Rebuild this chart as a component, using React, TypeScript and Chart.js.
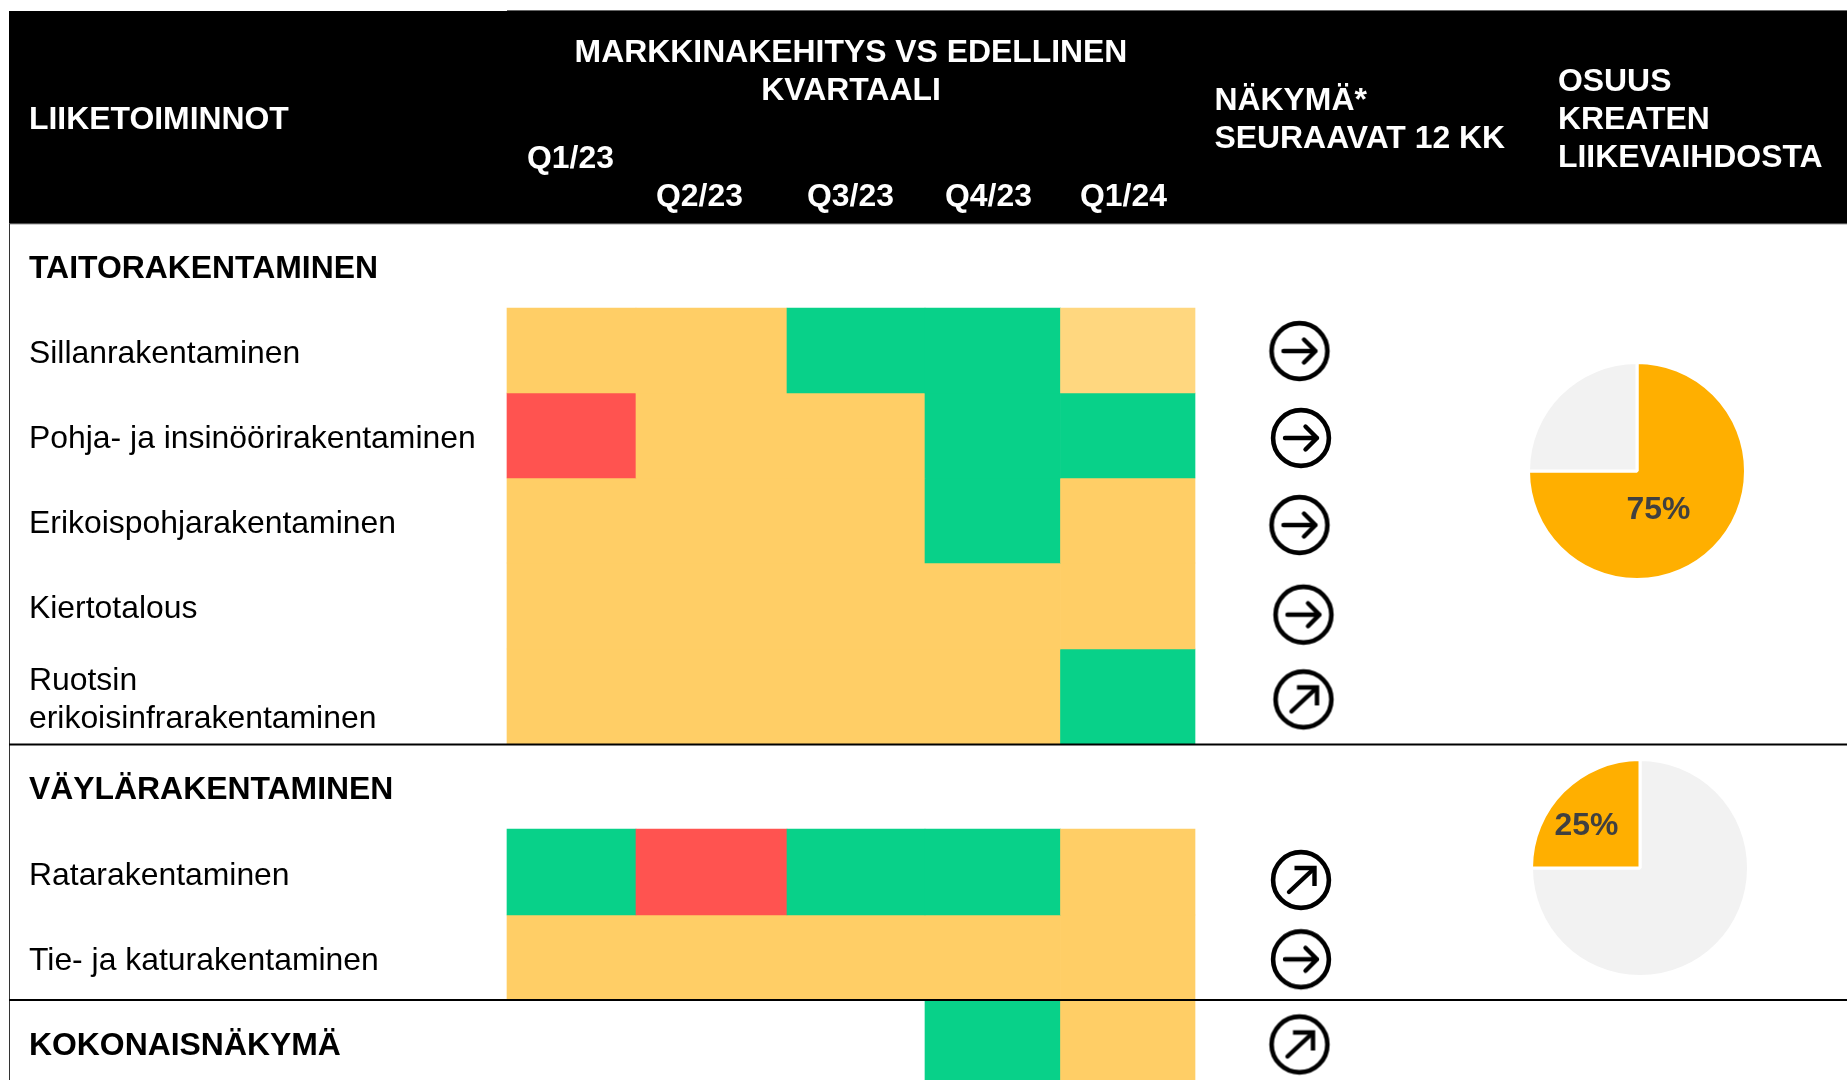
import React, { useEffect, useRef } from "react";
import { Chart, LinearScale, registerables } from "chart.js";

// ---------- data ----------
const quarters = ["Q1/23", "Q2/23", "Q3/23", "Q4/23", "Q1/24"];
const rowLabels = [
  "TAITORAKENTAMINEN",
  "Sillanrakentaminen",
  "Pohja- ja insinöörirakentaminen",
  "Erikoispohjarakentaminen",
  "Kiertotalous",
  "Ruotsin\nerikoisinfrarakentaminen",
  "VÄYLÄRAKENTAMINEN",
  "Ratarakentaminen",
  "Tie- ja katurakentaminen",
  "KOKONAISNÄKYMÄ",
];
// market development per quarter: u = up, n = neutral, l = neutral (light), d = down, "" = no cell
const sillanrakentaminen = ["n", "n", "u", "u", "l"];
const pohjaInsinoori = ["d", "n", "n", "u", "u"];
const erikoispohja = ["n", "n", "n", "u", "n"];
const kiertotalous = ["n", "n", "n", "n", "n"];
const ruotsinErikoisinfra = ["n", "n", "n", "n", "u"];
const ratarakentaminen = ["u", "d", "u", "u", "n"];
const tieJaKatu = ["n", "n", "n", "n", "n"];
const kokonaisnakyma = ["", "", "", "u", "n"];
const heatRows: [number, string[]][] = [
  [1, sillanrakentaminen],
  [2, pohjaInsinoori],
  [3, erikoispohja],
  [4, kiertotalous],
  [5, ruotsinErikoisinfra],
  [7, ratarakentaminen],
  [8, tieJaKatu],
  [9, kokonaisnakyma],
];
const outlookDirection = ["right", "right", "right", "right", "upright", "upright", "right", "upright"];
const outlookRow = [1.506, 2.529, 3.553, 4.601, 5.528, 7.593, 8.524, 9.526];
const outlookColumn = [5.995, 6.01, 5.995, 6.035, 6.035, 6.01, 6.01, 5.995];
const shareTaito = [75, 25];
const shareVayla = [75, 25];

// ---------- layout ----------
const columnEdges = [507, 636, 787, 925, 1060.5, 1195, 1300, 1400];
const rowEdges = [224, 308, 393, 478, 563, 649, 744.5, 829, 915, 999.5, 1085];
const colors: Record<string, string> = { u: "#08D189", n: "#FFCE66", l: "#FFD77F", d: "#FF5350" };
const FONT = "'Liberation Sans', Arial, sans-serif";
const BOLD = `bold 31.9px ${FONT}`;
const REG = `31.9px ${FONT}`;

class PiecewiseScale extends LinearScale {
  static id = "piecewise";
  getPixelForValue(v: number) {
    const e = (this as any).options.edges as number[];
    const i = Math.min(Math.max(Math.floor(v), 0), e.length - 2);
    return e[i] + (v - i) * (e[i + 1] - e[i]);
  }
}
Chart.register(...registerables, PiecewiseScale as any);

function arrowSprite(dir: string) {
  const c = document.createElement("canvas");
  c.width = 68;
  c.height = 68;
  const g = c.getContext("2d")!;
  g.translate(34, 34);
  g.strokeStyle = "#000";
  g.lineCap = "round";
  g.lineJoin = "round";
  g.lineWidth = 4.6;
  g.beginPath();
  g.arc(0, 0, 27.9, 0, Math.PI * 2);
  g.stroke();
  g.lineWidth = 4.4;
  g.beginPath();
  if (dir === "right") {
    g.moveTo(-16, 0);
    g.lineTo(16, 0);
    g.moveTo(4.5, -11.5);
    g.lineTo(16, 0);
    g.lineTo(4.5, 11.5);
  } else {
    g.moveTo(-12, 12);
    g.lineTo(12, -10.5);
    g.stroke();
    g.beginPath();
    g.lineCap = "butt";
    g.lineJoin = "miter";
    g.moveTo(-6.5, -12);
    g.lineTo(13.5, -12);
    g.lineTo(13.5, 6);
  }
  g.stroke();
  return c;
}

const tablePlugin = {
  id: "table",
  beforeDatasetsDraw(chart: any) {
    const g = chart.ctx;
    g.save();
    g.fillStyle = "#000";
    g.fillRect(9, 11, 1838, 213);
    g.fillStyle = "#666";
    g.fillRect(507, 10, 1340, 1);
    g.fillStyle = "#999";
    g.fillRect(9, 223.5, 1838, 1);
    g.fillStyle = "#333";
    g.fillRect(9, 224, 1, 856);
    g.restore();
  },
  afterDatasetsDraw(chart: any) {
    const g = chart.ctx;
    g.save();
    g.fillStyle = "#000";
    g.fillRect(9, 743.5, 1838, 2);
    g.fillRect(9, 999, 1838, 2);

    g.textBaseline = "alphabetic";
    g.textAlign = "left";
    g.fillStyle = "#fff";
    g.font = BOLD;
    g.fillText("LIIKETOIMINNOT", 29, 129);
    g.textAlign = "center";
    g.fillText("MARKKINAKEHITYS VS EDELLINEN", 851, 62);
    g.fillText("KVARTAALI", 851, 100);
    g.textAlign = "left";
    const qx = [527, 656, 807, 945, 1080];
    const qy = [168, 206, 206, 206, 206];
    quarters.forEach((q, i) => g.fillText(q, qx[i], qy[i]));
    g.fillText("NÄKYMÄ*", 1214.5, 109.5);
    g.fillText("SEURAAVAT 12 KK", 1214.5, 147.5);
    g.fillText("OSUUS", 1558, 91);
    g.fillText("KREATEN", 1558, 129);
    g.fillText("LIIKEVAIHDOSTA", 1558, 167);

    g.fillStyle = "#000";
    const base = [278, 362.5, 447.5, 533, 617.5, 690, 799, 885, 970, 1055];
    rowLabels.forEach((label, i) => {
      g.font = label === label.toUpperCase() ? BOLD : REG;
      label.split("\n").forEach((line, k) => g.fillText(line, 29, base[i] + k * 37.5));
    });
    g.restore();
  },
};

function pieOptions() {
  return {
    responsive: false,
    animation: false as const,
    layout: { padding: 0 },
    plugins: { legend: { display: false }, tooltip: { enabled: false } },
  };
}
function pieLabel(text: string, dx: number, dy: number) {
  return {
    id: "pieLabel",
    afterDatasetsDraw(chart: any) {
      const g = chart.ctx;
      g.save();
      g.font = BOLD;
      g.fillStyle = "#404040";
      g.textAlign = "center";
      g.textBaseline = "alphabetic";
      g.fillText(text, chart.width / 2 + dx, chart.height / 2 + dy);
      g.restore();
    },
  };
}

export default function App() {
  const mainRef = useRef<HTMLCanvasElement>(null);
  const pieA = useRef<HTMLCanvasElement>(null);
  const pieB = useRef<HTMLCanvasElement>(null);

  useEffect(() => {
    document.body.style.margin = "0";
    const sprites: Record<string, HTMLCanvasElement> = {
      right: arrowSprite("right"),
      upright: arrowSprite("upright"),
    };
    const barSets = heatRows.map(([row, values]) => {
      const cells = values.map((s, j) => ({ x: [j, j + 1], y: row + 0.5, s })).filter((c) => c.s);
      return {
        type: "bar" as const,
        label: rowLabels[row],
        data: cells,
        backgroundColor: cells.map((c) => colors[c.s]),
        barThickness: rowEdges[row + 1] - rowEdges[row],
        grouped: false,
        indexAxis: "y" as const,
        borderWidth: 0,
      };
    });
    const main = new Chart(mainRef.current!, {
      data: {
        datasets: [
          ...barSets,
          {
            type: "scatter" as const,
            label: "Näkymä",
            data: outlookRow.map((y, i) => ({ x: outlookColumn[i], y })),
            pointStyle: outlookDirection.map((d) => sprites[d]),
            pointRadius: 30,
            showLine: false,
          },
        ],
      } as any,
      options: {
        responsive: false,
        animation: false,
        indexAxis: "y",
        layout: { padding: 0, autoPadding: false },
        plugins: { legend: { display: false }, tooltip: { enabled: false } },
        scales: {
          x: { type: "piecewise", axis: "x", position: "bottom", display: false, min: 0, max: 7, edges: columnEdges },
          y: { type: "piecewise", axis: "y", position: "left", display: false, min: 0, max: 10, edges: rowEdges },
        },
      } as any,
      plugins: [tablePlugin],
    });
    const a = new Chart(pieA.current!, {
      type: "pie",
      data: {
        labels: ["Taitorakentaminen", "Muu"],
        datasets: [{ data: shareTaito, backgroundColor: ["#FFAF00", "#F2F2F2"], borderColor: "#fff", borderWidth: 3, hoverOffset: 0 }],
      },
      options: pieOptions(),
      plugins: [pieLabel("75%", 21.5, 48)],
    });
    const b = new Chart(pieB.current!, {
      type: "pie",
      data: {
        labels: ["Muu", "Väylärakentaminen"],
        datasets: [{ data: shareVayla, backgroundColor: ["#F2F2F2", "#FFAF00"], borderColor: "#fff", borderWidth: 3, hoverOffset: 0 }],
      },
      options: pieOptions(),
      plugins: [pieLabel("25%", -53.5, -33.5)],
    });
    return () => {
      main.destroy();
      a.destroy();
      b.destroy();
    };
  }, []);

  return (
    <div style={{ position: "absolute", left: 0, top: 0, width: 1847, height: 1080, overflow: "hidden", background: "#fff" }}>
      <canvas ref={mainRef} width={1847} height={1080} style={{ position: "absolute", left: 0, top: 0 }} />
      <canvas ref={pieA} width={220} height={220} style={{ position: "absolute", left: 1527, top: 361 }} />
      <canvas ref={pieB} width={220} height={220} style={{ position: "absolute", left: 1530, top: 757.5 }} />
    </div>
  );
}
